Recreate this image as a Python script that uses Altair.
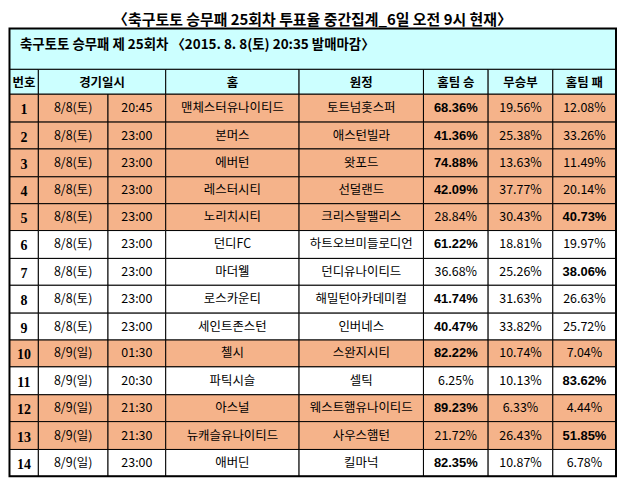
import altair as alt
import pandas as pd

# ---------------- data ----------------
title_text = "〈축구토토 승무패 25회차 투표율 중간집계_6일 오전 9시 현재〉"
band_text = "축구토토 승무패 제 25회차 〈2015. 8. 8(토) 20:35 발매마감〉"
headers = ["번호", "경기일시", "홈", "원정", "홈팀 승", "무승부", "홈팀 패"]
nums = [1, 2, 3, 4, 5, 6, 7, 8, 9, 10, 11, 12, 13, 14]
dates = ["8/8(토)", "8/8(토)", "8/8(토)", "8/8(토)", "8/8(토)", "8/8(토)", "8/8(토)",
         "8/8(토)", "8/8(토)", "8/9(일)", "8/9(일)", "8/9(일)", "8/9(일)", "8/9(일)"]
times = ["20:45", "23:00", "23:00", "23:00", "23:00", "23:00", "23:00",
         "23:00", "23:00", "01:30", "20:30", "21:30", "21:30", "23:00"]
home = ["맨체스터유나이티드", "본머스", "에버턴", "레스터시티", "노리치시티", "던디FC", "마더웰",
        "로스카운티", "세인트존스턴", "첼시", "파틱시슬", "아스널", "뉴캐슬유나이티드", "애버딘"]
away = ["토트넘홋스퍼", "애스턴빌라", "왓포드", "선덜랜드", "크리스탈팰리스", "하트오브미들로디언",
        "던디유나이티드", "해밀턴아카데미컬", "인버네스", "스완지시티", "셀틱",
        "웨스트햄유나이티드", "사우스햄턴", "킬마넉"]
win = [68.36, 41.36, 74.88, 42.09, 28.84, 61.22, 36.68, 41.74, 40.47, 82.22, 6.25, 89.23, 21.72, 82.35]
draw = [19.56, 25.38, 13.63, 37.77, 30.43, 18.81, 25.26, 31.63, 33.82, 10.74, 10.13, 6.33, 26.43, 10.87]
lose = [12.08, 33.26, 11.49, 20.14, 40.73, 19.97, 38.06, 26.63, 25.72, 7.04, 83.62, 4.44, 51.85, 6.78]
shaded = [True, True, True, True, True, False, False, False, False, True, False, True, True, False]

# ---------------- layout ----------------
W, H = 612, 451
ORANGE = "#F5B38A"
CYAN = "#CCFFFF"
col_edges = [1.5, 30.5, 100.5, 158.5, 292.5, 417.5, 482.5, 547.5, 611.0]
band_top, band_bot, head_bot = 0.5, 41.5, 66.5
row_h = (450.0 - head_bot) / 14
row_edges = [round(head_bot + i * row_h) + 0.5 for i in range(15)]
head_spans = [(0, 1), (1, 3), (3, 4), (4, 5), (5, 6), (6, 7), (7, 8)]

cells = [dict(x=col_edges[0], x2=col_edges[-1], y=band_top, y2=band_bot, fill=CYAN)]
for a, b in head_spans:
    cells.append(dict(x=col_edges[a], x2=col_edges[b], y=band_bot, y2=head_bot, fill=CYAN))
for i in range(14):
    f = ORANGE if shaded[i] else "#FFFFFF"
    for c in range(8):
        cells.append(dict(x=col_edges[c], x2=col_edges[c + 1], y=row_edges[i], y2=row_edges[i + 1], fill=f))
cells_df = pd.DataFrame(cells)

centers = [(col_edges[c] + col_edges[c + 1]) / 2 for c in range(8)]
rc = [(row_edges[i] + row_edges[i + 1]) / 2 for i in range(14)]

head_df = pd.DataFrame([dict(x=(col_edges[a] + col_edges[b]) / 2, y=(band_bot + head_bot) / 2 + 1, t=h)
                        for (a, b), h in zip(head_spans, headers)])
band_df = pd.DataFrame([dict(x=12, y=17, t=band_text)])
num_df = pd.DataFrame([dict(x=centers[0], y=rc[i] + 2, t=str(nums[i])) for i in range(14)])
txt_rows = []
for i in range(14):
    for c, v in zip([1, 2, 3, 4], [dates[i], times[i], home[i], away[i]]):
        txt_rows.append(dict(x=centers[c], y=rc[i], t=v))
txt_df = pd.DataFrame(txt_rows)
pb, pn = [], []
for i in range(14):
    vals = [win[i], draw[i], lose[i]]
    m = max(vals)
    for k, v in enumerate(vals):
        d = dict(x=centers[5 + k], y=rc[i], t=f"{v:.2f}%")
        (pb if v == m else pn).append(d)
pb_df, pn_df = pd.DataFrame(pb), pd.DataFrame(pn)

xs = alt.Scale(domain=[0, W], nice=False, zero=False)
ys = alt.Scale(domain=[0, H], nice=False, zero=False, reverse=True)
X = lambda f="x": alt.X(f"{f}:Q", scale=xs, axis=None)
Y = lambda f="y": alt.Y(f"{f}:Q", scale=ys, axis=None)

rects = alt.Chart(cells_df).mark_rect(stroke="black", strokeWidth=1).encode(
    x=X(), x2="x2:Q", y=Y(), y2="y2:Q", fill=alt.Fill("fill:N", scale=None))
outer = alt.Chart(pd.DataFrame([dict(x=col_edges[0], x2=col_edges[-1], y=band_top, y2=row_edges[-1])])).mark_rect(
    fillOpacity=0, stroke="black", strokeWidth=2).encode(x=X(), x2="x2:Q", y=Y(), y2="y2:Q")

KR = "Noto Sans CJK KR"
def text_layer(df, **kw):
    return alt.Chart(df).mark_text(baseline="middle", color="black", **kw).encode(x=X(), y=Y(), text="t:N")

layers = [
    rects, outer,
    text_layer(band_df, align="left", font=KR, fontWeight="bold", fontSize=13.5),
    text_layer(head_df, align="center", font=KR, fontWeight="bold", fontSize=12.5),
    text_layer(num_df, align="center", font="Liberation Serif", fontWeight="bold", fontSize=14),
    text_layer(txt_df, align="center", font=KR, fontSize=12.5),
    text_layer(pb_df, align="center", font="Liberation Sans", fontWeight="bold", fontSize=13),
    text_layer(pn_df, align="center", font=KR, fontSize=12.5),
]

chart = alt.layer(*layers).properties(
    width=W, height=H,
    title=alt.Title(title_text, fontSize=15, font=KR, fontWeight="bold", anchor="middle", offset=0, color="black"),
    autosize=alt.AutoSizeParams(type="none"),
    padding={"left": 0, "top": 19, "right": 0, "bottom": 0},
).configure_view(stroke=None)

chart.save("out.html", embed_options={"renderer": "svg", "actions": False})
